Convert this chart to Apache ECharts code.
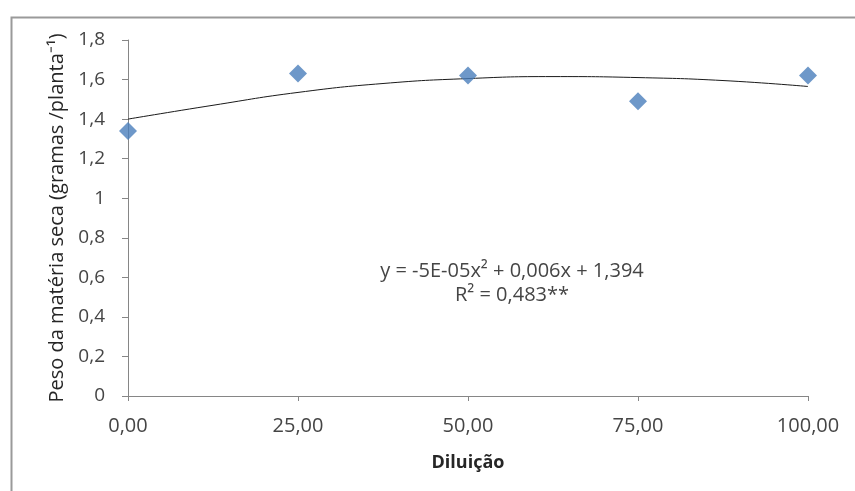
<!DOCTYPE html>
<html lang="pt">
<head>
<meta charset="UTF-8">
<title>Peso da matéria seca x Diluição</title>
<script src="https://cdn.jsdelivr.net/npm/echarts@6/dist/echarts.min.js"></script>
<style>
  html, body { margin: 0; padding: 0; background: #fff; }
  #chart { width: 855px; height: 491px; }
</style>
</head>
<body>
<div id="chart"></div>
<script>
// valores observados (diamantes)
var diluicao = [0, 25, 50, 75, 100];
var pesoSeco = [1.34, 1.63, 1.62, 1.49, 1.62];

// linha de tendência
var trendX = [0, 12.5, 25, 37.5, 50, 62.5, 75, 87.5, 100];
var trendY = [1.40, 1.47, 1.535, 1.58, 1.605, 1.615, 1.61, 1.595, 1.565];

var xTicks = [0, 25, 50, 75, 100];
var yTicks = [0, 0.2, 0.4, 0.6, 0.8, 1, 1.2, 1.4, 1.6, 1.8];

var equacao = 'y = -5E-05x² + 0,006x + 1,394';
var r2 = 'R² = 0,483**';

var font = '"Open Sans", sans-serif';
var chart = echarts.init(document.getElementById('chart'));

chart.setOption({
  animation: false,
  grid: { left: 128, right: 47, top: 40, bottom: 95 },
  xAxis: {
    type: 'value', min: 0, max: 100, interval: 25,
    name: 'Diluição', nameLocation: 'middle', nameGap: 58,
    nameTextStyle: { fontFamily: font, fontSize: 18, fontWeight: 'bold', color: '#262626' },
    axisLine: { lineStyle: { color: '#868686' } },
    axisTick: { show: true, length: 5, lineStyle: { color: '#868686' } },
    axisLabel: {
      fontFamily: font, fontSize: 20, color: '#454545', margin: 20,
      formatter: function (v) { return v.toFixed(2).replace('.', ','); }
    },
    splitLine: { show: false }
  },
  yAxis: {
    type: 'value', min: 0, max: 1.8, interval: 0.2,
    name: 'Peso da matéria seca (gramas /planta⁻¹)', nameLocation: 'middle', nameGap: 55,
    nameTextStyle: { fontFamily: font, fontSize: 20, color: '#262626' },
    axisLine: { show: true, lineStyle: { color: '#868686' } },
    axisTick: { show: true, length: 6, lineStyle: { color: '#868686' } },
    axisLabel: {
      fontFamily: font, fontSize: 19, color: '#454545', margin: 23,
      formatter: function (v) { return String(Math.round(v * 10) / 10).replace('.', ','); }
    },
    splitLine: { show: false }
  },
  series: [
    {
      type: 'line',
      data: trendX.map(function (x, i) { return [x, trendY[i]]; }),
      smooth: true,
      symbol: 'none',
      lineStyle: { color: '#1a1a1a', width: 1 },
      z: 2
    },
    {
      type: 'scatter',
      data: diluicao.map(function (x, i) { return [x, pesoSeco[i]]; }),
      symbol: 'diamond',
      symbolSize: [18, 18],
      itemStyle: { color: '#4a7ebb' },
      z: 3
    }
  ],
  graphic: [
    {
      type: 'rect', left: 9, top: 15, silent: true,
      shape: { width: 860, height: 500 },
      style: { fill: 'none', stroke: '#9a9a9a', lineWidth: 2 }
    },
    {
      type: 'text', x: 512, y: 271,
      style: { text: equacao, font: '20px ' + font, fill: '#454545', align: 'center', verticalAlign: 'middle' }
    },
    {
      type: 'text', x: 512, y: 295,
      style: { text: r2, font: '20px ' + font, fill: '#454545', align: 'center', verticalAlign: 'middle' }
    }
  ]
});
</script>
</body>
</html>
